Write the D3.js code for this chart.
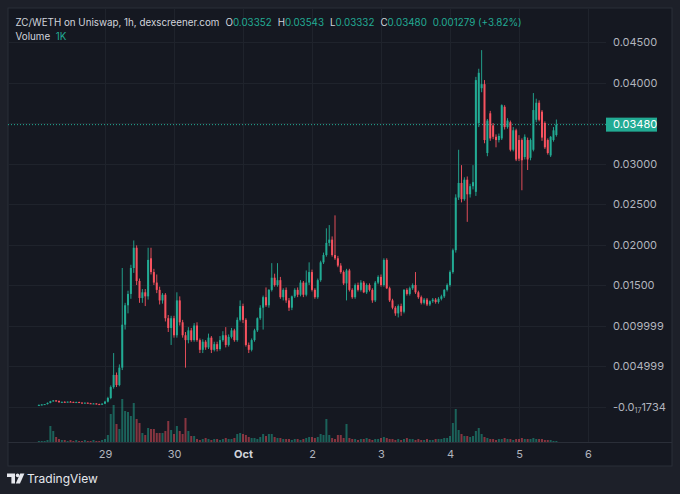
<!DOCTYPE html>
<html>
<head>
<meta charset="utf-8">
<script src="https://cdn.jsdelivr.net/npm/d3@7"></script>
<style>
  html, body { margin: 0; padding: 0; background: #1c1f27; }
  svg { display: block; font-family: Inter, "Noto Sans", sans-serif; }
</style>
</head>
<body>
<svg id="chart" width="680" height="494"></svg>
<script>
// ---------- Data: ZC/WETH hourly candles, Sep 28 01:00 -> Oct 5 13:00 ----------
const firstCandle = new Date(2024, 8, 28, 1);

const openPrices = [
  .00015,.0002,.00025,.0003,.00045,.00065,.00075,.00068,.00052,.00058,
  .00055,.0006,.00057,.00052,.00055,.00048,.00045,.00047,.0004,.00035,
  .00038,.0003,.00025,.00035,.0006,.00105,.0024,.0039,.00265,.0048,
  .0101,.0125,.0139,.0171,.0196,.0155,.0134,.0141,.0136,.0183,
  .0166,.0153,.0144,.0131,.0138,.0109,.0097,.0109,.0088,.0131,
  .0104,.0088,.0082,.0094,.0082,.01,.0082,.007,.008,.0073,
  .0085,.007,.0077,.0071,.0082,.0088,.0076,.0086,.0094,.0082,
  .0107,.0124,.0107,.0076,.007,.0082,.0094,.0109,.0122,.0135,
  .0125,.0144,.0159,.015,.0156,.0135,.0144,.0131,.0122,.0136,
  .0144,.0138,.0153,.0138,.0153,.0166,.0144,.0135,.0156,.0178,
  .0187,.0202,.0206,.0187,.0183,.0174,.0166,.0152,.0168,.0144,
  .0135,.015,.0144,.0153,.0141,.015,.0144,.0131,.0153,.016,
  .015,.0181,.0146,.0131,.0122,.0115,.0124,.0117,.0144,.0139,
  .0146,.015,.0141,.0135,.0128,.0132,.0126,.013,.0132,.0129,
  .0133,.0136,.0144,.015,.0166,.0193,.0258,.0276,.0256,.028,
  .0262,.0272,.0265,.035,.0393,.0398,.0313,.0362,.0347,.0333,
  .0329,.0331,.037,.0345,.0351,.0317,.0341,.0329,.0329,.0308,
  .0329,.0307,.0317,.0354,.0375,.0364,.035,.0329,.031,.0329,
  .03352
];
const highPrices = [
  .00025,.0003,.0003,.0005,.0007,.0008,.0008,.00075,.0006,.00065,
  .00062,.00068,.0006,.0006,.0006,.00052,.0005,.0005,.00045,.0004,
  .0004,.00035,.0004,.0007,.0012,.0026,.0066,.0042,.0052,.0171,
  .0128,.0143,.0175,.0205,.0199,.0158,.0145,.0145,.0196,.0196,
  .017,.0163,.0148,.014,.014,.0113,.0112,.0112,.0141,.0136,
  .0107,.0092,.0098,.0097,.0103,.0104,.0084,.0083,.0082,.009,
  .0087,.008,.008,.0087,.0093,.0098,.0089,.0097,.0096,.011,
  .0131,.0127,.0109,.0079,.0084,.0096,.011,.0125,.0137,.0147,
  .0145,.0177,.0164,.0177,.016,.0146,.0147,.0134,.0137,.0146,
  .0147,.0156,.0155,.0168,.0178,.0169,.0146,.0158,.018,.019,
  .022,.0224,.021,.0236,.0186,.0177,.0168,.017,.017,.0146,
  .0152,.0153,.0156,.0155,.0152,.0152,.0146,.0155,.0162,.0163,
  .0183,.0183,.0148,.0133,.0124,.0126,.0127,.0145,.0146,.0148,
  .0152,.0166,.0143,.0137,.0134,.0134,.0131,.0134,.0134,.0135,
  .0138,.0145,.0152,.0168,.0195,.0262,.0317,.0298,.0283,.0284,
  .0275,.0298,.0407,.0417,.044,.0403,.0355,.0365,.035,.0336,
  .0337,.0373,.0372,.0356,.0353,.0345,.0343,.0335,.0331,.0336,
  .0332,.0331,.0387,.038,.0378,.0366,.0352,.0331,.0334,.0345,
  .03543
];
const lowPrices = [
  .0001,.00015,.0002,.00025,.0004,.0006,.0006,.0005,.00045,.0005,
  .0005,.00055,.0005,.00048,.00045,.0004,.0004,.00035,.00032,.0003,
  .00025,.00022,.0002,.0003,.0005,.0009,.0022,.0024,.0025,.0045,
  .0095,.0115,.0133,.0165,.015,.0128,.0128,.0124,.0132,.0163,
  .015,.014,.0126,.0127,.0105,.0092,.0076,.0085,.0085,.01,
  .0085,.0048,.0078,.008,.008,.008,.0066,.0066,.007,.0071,
  .0066,.0068,.0068,.0069,.008,.0073,.0074,.0084,.008,.008,
  .0105,.0103,.0074,.0066,.0068,.008,.0092,.0107,.0095,.0123,
  .0122,.0142,.0148,.0148,.0133,.0131,.0128,.0118,.0119,.0134,
  .0135,.0136,.0135,.0136,.015,.0142,.0133,.0133,.0154,.0176,
  .0185,.0198,.0185,.0181,.0172,.0164,.015,.0131,.0142,.0133,
  .0133,.0142,.0142,.014,.0139,.0142,.0128,.0129,.0151,.0148,
  .0148,.0145,.0129,.012,.0112,.011,.0112,.0115,.0137,.0137,
  .0144,.0139,.0133,.0126,.0126,.0124,.0124,.0128,.0127,.0127,
  .0131,.0134,.0142,.0148,.0164,.019,.0255,.0252,.0254,.0228,
  .0258,.0268,.026,.0345,.0388,.0325,.0309,.0328,.033,.032,
  .0326,.0329,.0342,.0343,.0315,.0315,.0303,.0303,.0267,.0305,
  .0292,.0304,.0315,.0351,.0352,.0328,.0318,.0311,.0308,.0327,
  .03332
];
const closePrices = [
  .0002,.00025,.0003,.00045,.00065,.00075,.00068,.00052,.00058,.00055,
  .0006,.00057,.00052,.00055,.00048,.00045,.00047,.0004,.00035,.00038,
  .0003,.00025,.00035,.0006,.00105,.0024,.0039,.00265,.0048,.0101,
  .0125,.0139,.0171,.0196,.0155,.0134,.0141,.0136,.0181,.0166,
  .0153,.0144,.0131,.0138,.0109,.0097,.0109,.0088,.0131,.0104,
  .0088,.0082,.0094,.0082,.01,.0082,.007,.008,.0073,.0085,
  .007,.0077,.0071,.0082,.0088,.0076,.0086,.0094,.0082,.0107,
  .0124,.0107,.0076,.007,.0082,.0094,.0109,.0122,.0135,.0125,
  .0144,.0159,.015,.0156,.0135,.0144,.0131,.0122,.0136,.0144,
  .0138,.0153,.0138,.0153,.0166,.0144,.0135,.0156,.0178,.0187,
  .0202,.0206,.0187,.0183,.0174,.0166,.0152,.0168,.0144,.0135,
  .015,.0144,.0153,.0141,.015,.0144,.0131,.0153,.016,.015,
  .0181,.0146,.0131,.0122,.0115,.0124,.0117,.0144,.0139,.0146,
  .015,.0141,.0135,.0128,.0132,.0126,.013,.0132,.0129,.0133,
  .0136,.0144,.015,.0166,.0193,.0258,.0276,.0256,.028,.0262,
  .0272,.0277,.0403,.0412,.0398,.0329,.0353,.0331,.0333,.0329,
  .0334,.0372,.0345,.0353,.0317,.0341,.0305,.0306,.0304,.0333,
  .0305,.0329,.0366,.0375,.0354,.0332,.032,.0313,.0333,.0341,
  .0348
];
// volume in thousands
const volumes = [
  1,1,1,2,16,11,5,3,2,2,
  1,2,1,2,1,1,2,1,1,2,
  1,1,2,3,7,28,37,18,13,43,
  31,30,26,39,23,19,9,7,14,13,
  13,9,9,9,11,21,12,8,16,11,
  8,24,11,6,6,3,2,3,4,3,
  2,3,3,2,3,4,3,3,4,8,
  9,8,7,5,4,4,3,5,8,6,
  8,8,5,4,4,3,3,3,2,3,
  3,2,3,4,5,5,4,5,8,7,
  23,7,4,3,7,7,4,18,4,3,
  3,2,3,3,4,3,2,3,3,4,
  5,4,3,3,2,3,2,3,4,3,
  3,2,3,2,2,3,2,2,3,3,
  3,4,4,6,19,33,12,8,6,6,
  5,6,11,14,8,5,4,3,3,2,
  3,3,4,3,3,2,3,3,4,3,
  3,3,4,3,3,3,2,2,2,1,
  1
];

const dayTicks = [
  new Date(2024, 8, 29), new Date(2024, 8, 30), new Date(2024, 9, 1), new Date(2024, 9, 2),
  new Date(2024, 9, 3), new Date(2024, 9, 4), new Date(2024, 9, 5), new Date(2024, 9, 6)
];
const dayLabels = ["29", "30", "Oct", "2", "3", "4", "5", "6"];

const priceTicks = [0.045, 0.040, 0.035, 0.030, 0.025, 0.020, 0.015, 0.009999, 0.004999, -1.734e-18];
const priceTickLabels = ["0.04500", "0.04000", "0.03500", "0.03000", "0.02500", "0.02000", "0.01500", "0.009999", "0.004999", "-0.0|17|1734"];

const lastPrice = 0.03480;
const legendTitle = "ZC/WETH on Uniswap, 1h, dexscreener.com";
const legendOHLC = [["O", "0.03352"], ["H", "0.03543"], ["L", "0.03332"], ["C", "0.03480"]];
const legendChange = "0.001279 (+3.82%)";
const legendVolume = "1K";

// ---------- Build candle records ----------
const candles = closePrices.map((c, i) => ({
  t: d3.timeHour.offset(firstCandle, i),
  o: openPrices[i], h: highPrices[i], l: lowPrices[i], c: c, v: volumes[i]
}));

// ---------- Layout ----------
const W = 680, H = 494;
const panel = { left: 8, top: 8, right: 672, bottom: 466 };
const plot = { left: 8, top: 8, right: 606, bottom: 442 };

const UP = "#22ab94", DOWN = "#f7525f";
const TEXT = "#b2b5be";
const GRID = "#1f232c";

const svg = d3.select("#chart");

svg.append("rect").attr("width", W).attr("height", H).attr("fill", "#1d2029");
svg.append("rect")
  .attr("x", panel.left).attr("y", panel.top)
  .attr("width", panel.right - panel.left).attr("height", panel.bottom - panel.top)
  .attr("fill", "#151821").attr("stroke", "#2a2e38").attr("stroke-width", 1);

// scales (x: one day per ~69px, Sep 29 at 105)
const x = d3.scaleTime().domain([dayTicks[0], dayTicks[7]]).range([105, 588]);
const y = d3.scaleLinear().domain([-0.00438, 0.0492]).range([plot.bottom, plot.top]);
const yVol = d3.scaleLinear().domain([0, d3.max(volumes)]).range([plot.bottom, plot.bottom - 43]);

// ---------- Grid ----------
const grid = svg.append("g");
grid.selectAll(".vg").data(dayTicks).join("line")
  .attr("x1", d => Math.round(x(d)) + 0.5).attr("x2", d => Math.round(x(d)) + 0.5)
  .attr("y1", plot.top).attr("y2", plot.bottom)
  .attr("stroke", GRID);
grid.selectAll(".hg").data(priceTicks).join("line")
  .attr("x1", plot.left).attr("x2", plot.right)
  .attr("y1", d => Math.round(y(d)) + 0.5).attr("y2", d => Math.round(y(d)) + 0.5)
  .attr("stroke", GRID);

// ---------- Volume ----------
svg.append("g").selectAll("rect").data(candles).join("rect")
  .attr("x", d => x(d.t) - 1)
  .attr("width", 2)
  .attr("y", d => yVol(d.v))
  .attr("height", d => Math.max(0.8, plot.bottom - yVol(d.v)))
  .attr("fill", d => d.c >= d.o ? UP : DOWN)
  .attr("fill-opacity", 0.5);

// ---------- Last price line ----------
svg.append("line")
  .attr("x1", plot.left).attr("x2", plot.right)
  .attr("y1", y(lastPrice)).attr("y2", y(lastPrice))
  .attr("stroke", UP).attr("stroke-width", 1).attr("stroke-dasharray", "1,2");

// ---------- Candles ----------
const cg = svg.append("g");
cg.selectAll("line").data(candles).join("line")
  .attr("x1", d => x(d.t)).attr("x2", d => x(d.t))
  .attr("y1", d => y(d.h)).attr("y2", d => y(d.l))
  .attr("stroke", d => d.c >= d.o ? UP : DOWN)
  .attr("stroke-width", 0.9);
cg.selectAll("rect").data(candles).join("rect")
  .attr("x", d => x(d.t) - 1)
  .attr("width", 2)
  .attr("y", d => y(Math.max(d.o, d.c)))
  .attr("height", d => Math.max(1, Math.abs(y(d.o) - y(d.c))))
  .attr("fill", d => d.c >= d.o ? UP : DOWN);

// ---------- Price axis ----------
const yAxis = svg.append("g")
  .attr("transform", `translate(${plot.right + 7},0)`)
  .call(d3.axisRight(y).tickValues(priceTicks).tickSize(0).tickPadding(0)
    .tickFormat((d, i) => priceTickLabels[i]));
yAxis.select(".domain").remove();
yAxis.selectAll("text")
  .attr("fill", TEXT).style("font-size", "11px").style("font-family", "Inter, sans-serif")
  .attr("opacity", (d, i) => Math.abs(y(d) - y(lastPrice)) < 10 ? 0 : 1)
  .each(function(d, i) {
    const parts = priceTickLabels[i].split("|");
    if (parts.length === 3) {
      const t = d3.select(this).text("");
      t.append("tspan").text(parts[0]);
      t.append("tspan").text(parts[1]).style("font-size", "7px").attr("dy", "2");
      t.append("tspan").text(parts[2]).attr("dy", "-2");
    }
  });

// last price label
svg.append("rect")
  .attr("x", plot.right).attr("y", y(lastPrice) - 7)
  .attr("width", 51).attr("height", 14).attr("fill", UP);
svg.append("text")
  .attr("x", plot.right + 7).attr("y", y(lastPrice)).attr("dy", "0.35em")
  .attr("fill", "#ffffff").style("font-size", "11px")
  .text(d3.format(".5f")(lastPrice));

// ---------- Time axis ----------
const xAxis = svg.append("g")
  .attr("transform", `translate(0,${plot.bottom})`)
  .call(d3.axisBottom(x).tickValues(dayTicks).tickSize(0).tickPadding(8)
    .tickFormat((d, i) => dayLabels[i]));
xAxis.select(".domain").attr("stroke", "#2a2e38").attr("d", `M${plot.left},0.5H${panel.right}`);
xAxis.selectAll("text")
  .attr("fill", (d, i) => dayLabels[i] === "Oct" ? "#d1d4dc" : TEXT)
  .style("font-weight", (d, i) => dayLabels[i] === "Oct" ? "700" : "400")
  .style("font-size", "11px").style("font-family", "Inter, sans-serif");

// ---------- Legend ----------
const legend = svg.append("text").attr("x", 15.5).attr("y", 25.5)
  .style("font-size", "9.8px").attr("fill", "#d1d4dc");
legend.append("tspan").text(legendTitle);
legendOHLC.forEach(([k, v], i) => {
  legend.append("tspan").attr("dx", 6).text(k);
  legend.append("tspan").attr("fill", UP).text(v);
});
legend.append("tspan").attr("dx", 6).attr("fill", UP).text(legendChange);

const vol = svg.append("text").attr("x", 15.5).attr("y", 39.5)
  .style("font-size", "9.8px").attr("fill", "#d1d4dc");
vol.append("tspan").text("Volume");
vol.append("tspan").attr("dx", 6).attr("fill", UP).text(legendVolume);

// ---------- TradingView mark ----------
const logo = svg.append("g").attr("fill", "#e6e8ee");
logo.append("path").attr("d", "M7,473.5h8v10h-3.6v-6.6H7z");
logo.append("circle").attr("cx", 17.6).attr("cy", 475.4).attr("r", 1.8);
logo.append("path").attr("d", "M20.2,473.5h4.2l-4.4,10h-4.2z");
svg.append("text").attr("x", 27).attr("y", 482.5)
  .attr("fill", "#e6e8ee").style("font-size", "12px").text("TradingView");
</script>
</body>
</html>
